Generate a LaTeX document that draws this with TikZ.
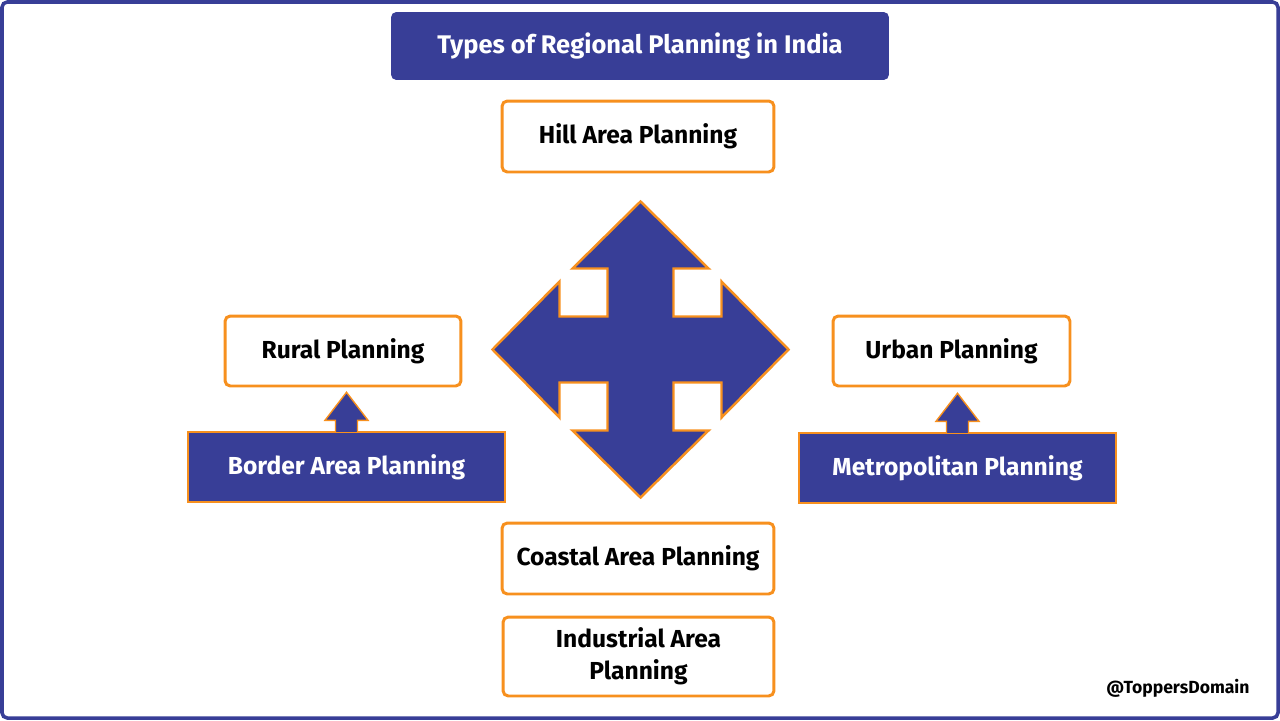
\documentclass[tikz,border=0pt]{standalone}
\usepackage{fontspec}
\setmainfont{Fira Sans}
\usetikzlibrary{positioning, calc}
\definecolor{planblue}{HTML}{383E97}
\definecolor{planorange}{HTML}{F7901E}

\begin{document}
\begin{tikzpicture}[x=0.02cm, y=-0.02cm,
    whitebox/.style={draw=planorange, line width=1.7pt, fill=white, rounded corners=3pt,
      font=\bfseries\fontsize{14}{18}\selectfont, align=center, inner sep=0pt},
    bluebox/.style={draw=planorange, line width=0.8pt, fill=planblue, text=white,
      font=\bfseries\fontsize{14}{18}\selectfont, align=center, inner sep=0pt,
      minimum width=6.34cm, minimum height=1.4cm},
    bigarrow/.style={draw=planorange, line width=1.4pt, fill=planblue, line join=miter},
    smallarrow/.style={draw=planorange, line width=0.8pt, fill=planblue}]
  \useasboundingbox (0,0) rectangle (1280,720);
  \draw[planblue, line width=2pt, rounded corners=3pt] (2,2) rectangle (1278,718);

  \node[fill=planblue, rounded corners=3pt, text=white, font=\bfseries\fontsize{14.5}{18}\selectfont,
    minimum width=9.96cm, minimum height=1.36cm] (title) at (640,46) {Types of Regional Planning in India};

  \node[whitebox, minimum width=5.44cm, minimum height=1.42cm] (hill) at (638,136.5) {Hill Area Planning};
  \node[whitebox, minimum width=4.72cm, minimum height=1.4cm] (rural) at (343,351) {Rural Planning};
  \node[whitebox, minimum width=4.74cm, minimum height=1.4cm] (urban) at (951.5,351) {Urban Planning};
  \node[whitebox, minimum width=5.44cm, minimum height=1.42cm] (coastal) at (638,558.5) {Coastal Area Planning};
  \node[whitebox, minimum width=5.42cm, minimum height=1.58cm] (industrial) at (638.5,656.5)
    {Industrial Area\\[0pt]Planning};

  \node[bluebox] (border) at (346.5,467) {Border Area Planning};
  \node[bluebox] (metro) at (957.5,468) {Metropolitan Planning};

  % four-way arrow in the middle
  \coordinate (centre) at (640.5,349.5);
  \begin{scope}[shift={(centre)}]
    \filldraw[bigarrow] (0,-148) -- (68,-81) -- (33,-81) -- (33,-33) -- (81,-33) -- (81,-68)
      -- (148,0) -- (81,68) -- (81,33) -- (33,33) -- (33,81) -- (68,81)
      -- (0,148) -- (-68,81) -- (-33,81) -- (-33,33) -- (-81,33) -- (-81,68)
      -- (-148,0) -- (-81,-68) -- (-81,-33) -- (-33,-33) -- (-33,-81) -- (-68,-81) -- cycle;
  \end{scope}

  % small arrows up to the boxes above
  \filldraw[smallarrow] (border.north) +(-11,0.5) -- +(-11,-11) -- +(-21.5,-11) -- +(0,-39)
    -- +(21.5,-11) -- +(11,-11) -- +(11,0.5);
  \filldraw[smallarrow] (metro.north) +(-11,0.5) -- +(-11,-11) -- +(-21.5,-11) -- +(0,-39)
    -- +(21.5,-11) -- +(11,-11) -- +(11,0.5);

  \node[font=\bfseries\fontsize{10}{12}\selectfont] (mark) at (1178,688) {@ToppersDomain};
\end{tikzpicture}
\end{document}
